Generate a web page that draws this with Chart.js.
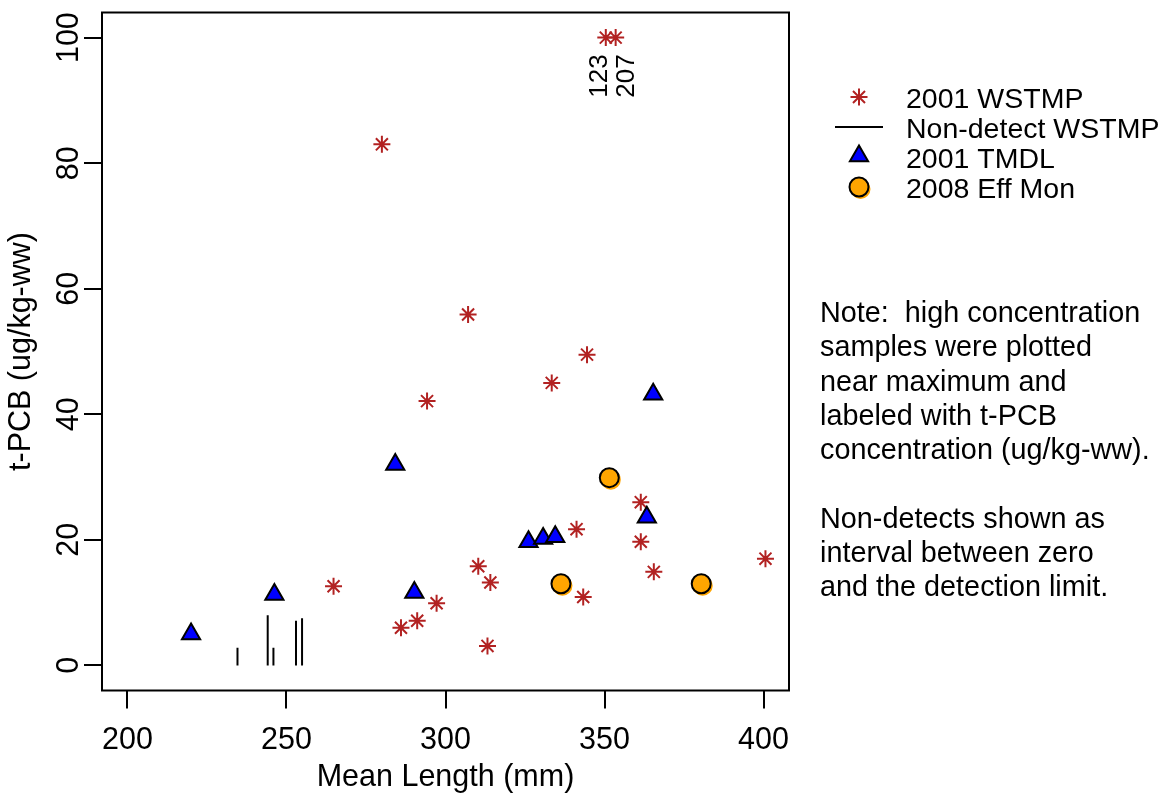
<!DOCTYPE html>
<html><head><meta charset="utf-8">
<script src="https://cdn.jsdelivr.net/npm/chart.js@4.4.0/dist/chart.umd.min.js"></script>
<style>html,body{margin:0;padding:0;background:#fff;}#wrap{width:1158px;height:799px;}</style>
</head><body><div id="wrap"><canvas id="c" width="1158" height="799"></canvas></div>
<script>
// ---- data ----
const wstmpX = [350.4, 353.5, 280.0, 307.1, 344.5, 333.4, 294.2, 361.4, 341.2, 361.4, 400.6, 310.3, 365.5, 314.1, 264.8, 343.3, 297.2, 291.1, 286.0, 313.2];
const wstmpY = [100, 100, 83.0, 55.9, 49.5, 45.0, 42.1, 26.0, 21.7, 19.7, 17.0, 15.8, 14.9, 13.2, 12.6, 10.9, 9.9, 7.1, 6.0, 3.1];
const ndX = [234.6, 244.1, 245.9, 253.0, 254.9];
const ndDL = [2.8, 8.0, 2.8, 7.1, 7.5];
const tmdlX = [220.0, 246.2, 284.2, 290.2, 326.1, 330.7, 334.5, 363.3, 365.3];
const tmdlY = [5.0, 11.3, 32.0, 11.6, 19.7, 20.2, 20.5, 23.6, 43.2];
const effX = [336.3, 351.5, 380.4];
const effY = [13.0, 29.9, 13.0];
const highLabels = ['123', '207'];
const highLabelX = [348.6, 357.1];
const xTicks = [200, 250, 300, 350, 400];
const yTicks = [0, 20, 40, 60, 80, 100];
const xTitle = 'Mean Length (mm)';
const yTitle = 't-PCB (ug/kg-ww)';
const legendLabels = ['2001 WSTMP', 'Non-detect WSTMP', '2001 TMDL', '2008 Eff Mon'];
const noteLines = ['Note:  high concentration', 'samples were plotted', 'near maximum and', 'labeled with t-PCB', 'concentration (ug/kg-ww).', '', 'Non-detects shown as', 'interval between zero', 'and the detection limit.'];

const FONT = '"Liberation Sans", Arial, sans-serif';
const RED = '#B22222', BLUE = '#0000FF', ORANGE = '#FFA500';

const toPts = (xs, ys) => xs.map((v, i) => ({x: v, y: ys[i]}));
const ndPts = [];
ndX.forEach((v, i) => { ndPts.push({x: v, y: 0}, {x: v, y: ndDL[i]}, {x: v, y: null}); });

const annot = {
  id: 'annot',
  beforeDatasetDraw(chart, args) {
    if (args.meta.label !== legendLabels[3]) return;
    const ctx = chart.ctx;
    ctx.save();
    ctx.fillStyle = ORANGE;
    args.meta.data.forEach(el => { ctx.beginPath(); ctx.arc(el.x + 1.5, el.y + 2, 10, 0, Math.PI * 2); ctx.fill(); });
    ctx.restore();
  },
  afterDraw(chart) {
    const {ctx, chartArea: a, scales: {x, y}} = chart;
    const H = Chart.helpers;
    ctx.save();
    ctx.strokeStyle = '#000'; ctx.lineWidth = 2;
    ctx.strokeRect(a.left, a.top, a.right - a.left, a.bottom - a.top);
    ctx.fillStyle = '#000';
    ctx.font = '30.5px ' + FONT;
    ctx.textAlign = 'center'; ctx.textBaseline = 'middle';
    xTicks.forEach(v => ctx.fillText(String(v), x.getPixelForValue(v), 741));
    yTicks.forEach(v => { ctx.save(); ctx.translate(70, y.getPixelForValue(v)); ctx.rotate(-Math.PI / 2); ctx.fillText(String(v), 0, 0); ctx.restore(); });
    ctx.fillText(xTitle, (a.left + a.right) / 2, 778);
    ctx.save(); ctx.translate(22, (a.top + a.bottom) / 2); ctx.rotate(-Math.PI / 2); ctx.fillText(yTitle, 0, 0); ctx.restore();
    ctx.font = '26px ' + FONT;
    highLabels.forEach((t, i) => { ctx.save(); ctx.translate(x.getPixelForValue(highLabelX[i]), 76); ctx.rotate(-Math.PI / 2); ctx.fillText(t, 0, 0); ctx.restore(); });
    // legend
    const sx = 859, rows = [100, 130, 160, 190];
    ctx.strokeStyle = RED; ctx.lineWidth = 2;
    H.drawPoint(ctx, {pointStyle: 'star', radius: 8.5, rotation: 0, borderWidth: 2}, sx, rows[0] - 3);
    ctx.strokeStyle = '#000'; ctx.beginPath(); ctx.moveTo(835, rows[1] - 3); ctx.lineTo(883, rows[1] - 3); ctx.stroke();
    ctx.fillStyle = BLUE; ctx.strokeStyle = '#000';
    H.drawPoint(ctx, {pointStyle: 'triangle', radius: 10.5, rotation: 0, borderWidth: 2}, sx, rows[2] - 4);
    ctx.fillStyle = ORANGE; ctx.beginPath(); ctx.arc(sx + 1.5, rows[3] - 3 + 2, 10, 0, Math.PI * 2); ctx.fill();
    H.drawPoint(ctx, {pointStyle: 'circle', radius: 9.5, rotation: 0, borderWidth: 2}, sx, rows[3] - 3);
    ctx.fillStyle = '#000';
    ctx.font = '28.5px ' + FONT; ctx.textAlign = 'left';
    legendLabels.forEach((t, i) => ctx.fillText(t, 906, rows[i]));
    ctx.font = '28.8px ' + FONT;
    noteLines.forEach((t, i) => ctx.fillText(t, 820, 314 + i * 34.3));
    ctx.restore();
  }
};

new Chart(document.getElementById('c'), {
  type: 'scatter',
  data: {
    datasets: [
      {label: legendLabels[3], data: toPts(effX, effY), order: 0, pointStyle: 'circle', pointRadius: 9.5, pointHoverRadius: 9.5, backgroundColor: ORANGE, borderColor: '#000', pointBorderWidth: 2},
      {label: legendLabels[2], data: toPts(tmdlX, tmdlY), order: 1, pointStyle: 'triangle', pointRadius: 10.5, pointHoverRadius: 10.5, backgroundColor: BLUE, borderColor: '#000', pointBorderWidth: 2},
      {label: legendLabels[1], data: ndPts, order: 2, type: 'line', showLine: true, spanGaps: false, pointRadius: 0, borderColor: '#000', borderWidth: 2, fill: false},
      {label: legendLabels[0], data: toPts(wstmpX, wstmpY), order: 3, pointStyle: 'star', pointRadius: 8.5, pointHoverRadius: 8.5, borderColor: RED, backgroundColor: RED, pointBorderWidth: 2}
    ]
  },
  options: {
    responsive: false, animation: false, devicePixelRatio: 1,
    layout: {padding: {left: 0, top: 8, right: 369, bottom: 0}},
    plugins: {legend: {display: false}, tooltip: {enabled: false}},
    events: [],
    scales: {
      x: {type: 'linear', min: 192, max: 408,
          afterBuildTicks: s => { s.ticks = xTicks.map(v => ({value: v})); },
          afterFit: s => { s.height = 108.5; },
          ticks: {display: false},
          border: {display: false},
          grid: {display: true, drawOnChartArea: false, drawTicks: true, tickLength: 18, color: '#000', lineWidth: 2}},
      y: {type: 'linear', min: -4, max: 104,
          afterBuildTicks: s => { s.ticks = yTicks.map(v => ({value: v})); },
          afterFit: s => { s.width = 102; },
          ticks: {display: false},
          border: {display: false},
          grid: {display: true, drawOnChartArea: false, drawTicks: true, tickLength: 18, color: '#000', lineWidth: 2}}
    }
  },
  plugins: [annot]
});
</script></body></html>
